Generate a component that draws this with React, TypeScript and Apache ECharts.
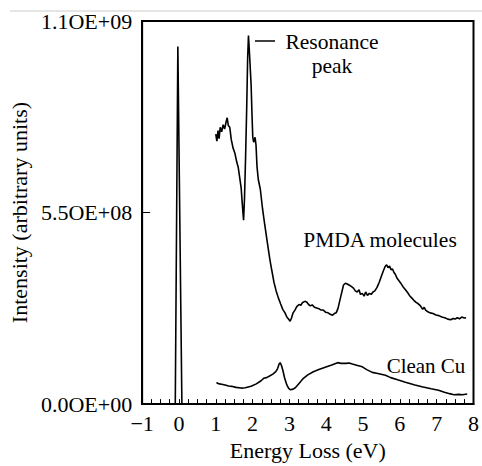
import React, { useEffect, useRef } from "react";
import * as echarts from "echarts";

// Energy loss (eV) and intensity (units of 1e8, arbitrary units)
const zeroLossX = [-0.1, -0.03, 0.08];
const zeroLossY = [0, 10.27, 0];

const pmdaX = [
  1.0, 1.03, 1.06, 1.09, 1.12, 1.16, 1.2, 1.24, 1.28, 1.31, 1.34, 1.38, 1.42, 1.47, 1.52, 1.57, 1.61, 1.65,
  1.69, 1.72, 1.755, 1.78, 1.81, 1.84, 1.865, 1.888, 1.915, 1.96, 1.987, 2.005, 2.03, 2.067, 2.093, 2.12,
  2.155, 2.21, 2.27, 2.33, 2.41, 2.47, 2.52, 2.58, 2.64, 2.7, 2.76, 2.82, 2.88, 2.93, 2.97, 3.02, 3.06, 3.1,
  3.15, 3.2, 3.26, 3.31, 3.36, 3.42, 3.47, 3.52, 3.57, 3.62, 3.68, 3.74, 3.8, 3.86, 3.92, 3.98, 4.05, 4.11,
  4.17, 4.22, 4.27, 4.32, 4.37, 4.42, 4.47, 4.52, 4.57, 4.62, 4.68, 4.74, 4.79, 4.84, 4.89, 4.93, 4.98,
  5.03, 5.07, 5.12, 5.17, 5.22, 5.27, 5.32, 5.38, 5.44, 5.5, 5.55, 5.6, 5.64, 5.68, 5.72, 5.76, 5.8, 5.84,
  5.88, 5.92, 5.97, 6.02, 6.08, 6.14, 6.2, 6.26, 6.32, 6.38, 6.44, 6.5, 6.56, 6.62, 6.66, 6.7, 6.76, 6.82,
  6.9, 6.98, 7.06, 7.14, 7.22, 7.3, 7.38, 7.45, 7.5, 7.56, 7.62, 7.68, 7.75, 7.8,
];
const pmdaY = [
  7.75, 7.55, 7.85, 7.62, 7.95, 7.82, 8.02, 7.9, 8.1, 8.22, 8.0, 7.95, 7.6, 7.35, 7.2, 6.95, 6.8, 6.5,
  6.2, 5.75, 5.28, 5.9, 7.1, 8.5, 9.9, 10.58, 10.09, 9.16, 8.22, 7.66, 7.52, 7.66, 7.44, 6.82,
  6.45, 6.17, 5.61, 5.15, 4.57, 4.15, 3.85, 3.5, 3.25, 3.05, 2.88, 2.72, 2.62, 2.5, 2.45, 2.38, 2.48, 2.62,
  2.7, 2.8, 2.86, 2.84, 2.92, 2.95, 2.93, 2.86, 2.82, 2.85, 2.78, 2.76, 2.74, 2.7, 2.7, 2.64, 2.62, 2.58,
  2.55, 2.6, 2.62, 2.75, 2.98, 3.2, 3.42, 3.47, 3.45, 3.42, 3.38, 3.33, 3.25, 3.22, 3.28, 3.15, 3.18,
  3.1, 3.22, 3.12, 3.18, 3.15, 3.22, 3.25, 3.35, 3.5, 3.68, 3.82, 3.95, 4.0, 3.92, 3.96, 3.86, 3.88, 3.78,
  3.72, 3.62, 3.55, 3.48, 3.38, 3.3, 3.22, 3.12, 3.05, 2.98, 2.92, 2.88, 2.82, 2.72, 2.78, 2.7, 2.65, 2.62,
  2.6, 2.56, 2.54, 2.5, 2.48, 2.44, 2.42, 2.46, 2.44, 2.48, 2.45, 2.5, 2.47, 2.48,
];

const cleanCuX = [
  1.02, 1.05, 1.1, 1.16, 1.25, 1.35, 1.43, 1.55, 1.69, 1.8, 1.96, 2.1, 2.23, 2.3, 2.38, 2.45, 2.55, 2.63,
  2.68, 2.72, 2.75, 2.78, 2.82, 2.87, 2.93, 2.98, 3.03, 3.1, 3.16, 3.25, 3.38, 3.5, 3.65, 3.8, 4.01, 4.15,
  4.31, 4.4, 4.54, 4.62, 4.71, 4.85, 4.98, 5.1, 5.25, 5.4, 5.61, 5.75, 5.96, 6.15, 6.41, 6.6, 6.85, 7.05,
  7.21, 7.35, 7.47, 7.6, 7.7, 7.83,
];
const cleanCuY = [
  0.62, 0.6, 0.58, 0.57, 0.55, 0.52, 0.51, 0.48, 0.46, 0.47, 0.51, 0.58, 0.67, 0.74, 0.76, 0.8, 0.86, 0.93,
  1.02, 1.15, 1.19, 1.12, 0.98, 0.75, 0.55, 0.45, 0.41, 0.43, 0.47, 0.58, 0.74, 0.84, 0.93, 0.99, 1.07, 1.12,
  1.19, 1.17, 1.17, 1.18, 1.15, 1.11, 1.07, 0.99, 0.91, 0.88, 0.83, 0.76, 0.69, 0.63, 0.55, 0.5, 0.44, 0.4,
  0.34, 0.3, 0.27, 0.28, 0.27, 0.29,
];

const yTickValues = [0, 5.5, 11];
const yTickLabels = ["0.0OE+00", "5.5OE+08", "1.1OE+09"];
const xTickValues = [-1, 0, 1, 2, 3, 4, 5, 6, 7, 8];

const FONT = "Liberation Serif";

function pairs(xs: number[], ys: number[]) {
  return xs.map((x, i) => [x, ys[i]]);
}

function label(text: string, x: number, y: number, size: number) {
  return {
    type: "text",
    x,
    y,
    style: {
      text,
      fontFamily: FONT,
      fontSize: size,
      fill: "#000",
      textAlign: "center",
      textVerticalAlign: "middle",
    },
  };
}

export default function App() {
  const ref = useRef<HTMLDivElement>(null);
  useEffect(() => {
    if (!ref.current) return;
    const chart = echarts.init(ref.current, undefined, { renderer: "svg" });
    const lineStyle = { color: "#000", width: 1.6 };
    chart.setOption({
      animation: false,
      backgroundColor: "#fff",
      textStyle: { fontFamily: FONT },
      grid: {
        left: 139,
        top: 21,
        right: 6,
        bottom: 53,
        show: true,
        borderColor: "#000",
        borderWidth: 2,
        backgroundColor: "transparent",
      },
      xAxis: {
        type: "value",
        min: -1,
        max: 8,
        interval: 1,
        name: "Energy Loss (eV)",
        nameLocation: "middle",
        nameGap: 26,
        nameTextStyle: { fontFamily: FONT, fontSize: 22, color: "#000" },
        axisLine: { show: true, onZero: false, lineStyle: { color: "#000", width: 2 } },
        axisTick: { show: true, inside: true, length: 5, lineStyle: { color: "#000", width: 1 } },
        minorTick: { show: true, splitNumber: 4, length: 5, lineStyle: { color: "#000", width: 1 } },
        splitLine: { show: false },
        axisLabel: {
          fontFamily: FONT,
          fontSize: 22,
          color: "#000",
          margin: 8,
          formatter: (v: number) => {
            const i = xTickValues.indexOf(v);
            if (i < 0) return "";
            return v < 0 ? "\u2212" + Math.abs(v) : String(v);
          },
        },
      },
      yAxis: {
        type: "value",
        min: 0,
        max: 11,
        interval: 5.5,
        name: "Intensity (arbitrary units)",
        nameLocation: "middle",
        nameGap: 108,
        nameTextStyle: { fontFamily: FONT, fontSize: 22, color: "#000" },
        axisLine: { show: true, onZero: false, lineStyle: { color: "#000", width: 2 } },
        axisTick: { show: true, inside: true, length: 8, lineStyle: { color: "#000", width: 1 } },
        splitLine: { show: false },
        axisLabel: {
          fontFamily: FONT,
          fontSize: 22,
          color: "#000",
          margin: 10,
          formatter: (v: number) => {
            const i = yTickValues.findIndex((t) => Math.abs(t - v) < 1e-6);
            return i >= 0 ? yTickLabels[i] : "";
          },
        },
      },
      series: [
        { type: "line", data: pairs(zeroLossX, zeroLossY), showSymbol: false, lineStyle },
        { type: "line", data: pairs(pmdaX, pmdaY), showSymbol: false, lineStyle },
        { type: "line", data: pairs(cleanCuX, cleanCuY), showSymbol: false, lineStyle },
      ],
      graphic: [
        { type: "line", shape: { x1: 10, y1: 11, x2: 482, y2: 11 }, style: { stroke: "#cccccc", lineWidth: 1 } },
        { type: "line", shape: { x1: 255, y1: 41, x2: 275, y2: 41 }, style: { stroke: "#000", lineWidth: 1.5 } },
        label("Resonance", 332, 42, 21.5),
        label("peak", 332, 66, 21.5),
        label("PMDA molecules", 380, 240, 21.5),
        label("Clean Cu", 426, 366, 21),
      ],
    });
    return () => chart.dispose();
  }, []);
  return <div ref={ref} style={{ width: 482, height: 466, position: "absolute", left: 0, top: 0 }} />;
}
